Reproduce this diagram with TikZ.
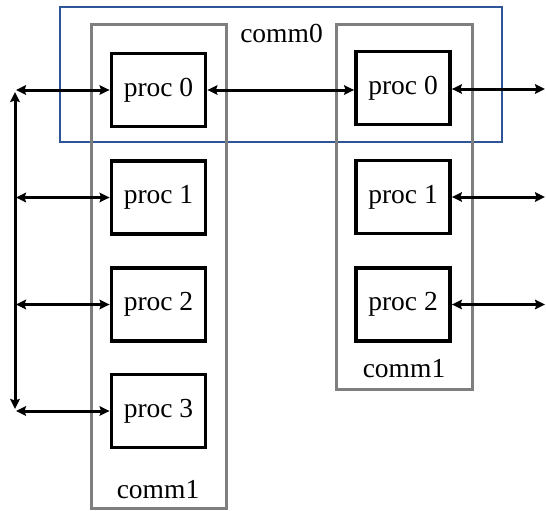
\documentclass[tikz,border=0pt]{standalone}
\usepackage{fontspec}
\setmainfont{Liberation Serif}
\usetikzlibrary{arrows.meta}
\definecolor{commgray}{HTML}{7F7F7F}
\definecolor{commblue}{HTML}{2F5597}
\begin{document}
\begin{tikzpicture}[x=1pt,y=-1pt,
  procbox/.style={draw=black,line width=3.8pt,minimum width=94pt,minimum height=73pt,inner sep=0pt,font=\fontsize{27.5}{30}\selectfont},
  graybox/.style={draw=commgray,line width=3pt},
  bluebox/.style={draw=commblue,line width=1.5pt},
  lbl/.style={font=\fontsize{27.5}{30}\selectfont,inner sep=0pt},
  conn/.style={line width=3pt,{Stealth[length=10pt,width=9.5pt,inset=1.5pt]}-{Stealth[length=10pt,width=9.5pt,inset=1.5pt]}}
]
\useasboundingbox (0,0) rectangle (546,511);
% containers
\draw[bluebox] (60,7) rectangle (502,142);
\draw[graybox] (91,25) rectangle (226,508);
\draw[graybox] (336,25) rectangle (472,389);
% labels
\node[lbl] (c0) at (281.5,33) {comm0};
\node[lbl] (c1l) at (158,490) {comm1};
\node[lbl] (c1r) at (404,369) {comm1};
% left procs
\node[procbox] (l0) at (158.5,90) {proc 0};
\node[procbox] (l1) at (158.5,197.5) {proc 1};
\node[procbox] (l2) at (158.5,304.5) {proc 2};
\node[procbox] (l3) at (158.5,411) {proc 3};
% right procs
\node[procbox] (r0) at (403,88) {proc 0};
\node[procbox] (r1) at (403,197) {proc 1};
\node[procbox] (r2) at (403,304.5) {proc 2};
% left endpoints
\coordinate (a0) at (16,90);
\coordinate (a1) at (16,197.5);
\coordinate (a2) at (16,304.5);
\coordinate (a3) at (16,411);
\coordinate (vt) at (15,92);
\coordinate (vb) at (15,409);
% right endpoints
\coordinate (b0) at (545,89);
\coordinate (b1) at (545,197);
\coordinate (b2) at (545,304.5);
% connectors
\draw[conn] (a0) -- (l0.west);
\draw[conn] (a1) -- (l1.west);
\draw[conn] (a2) -- (l2.west);
\draw[conn] (a3) -- (l3.west);
\draw[conn] (vt) -- (vb);
\draw[conn] (l0.east) -- (r0.west |- l0.east);
\draw[conn] (r0.east |- b0) -- (b0);
\draw[conn] (r1.east) -- (b1);
\draw[conn] (r2.east) -- (b2);
\end{tikzpicture}
\end{document}
